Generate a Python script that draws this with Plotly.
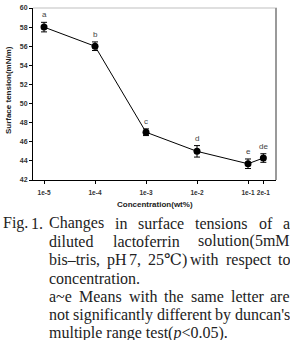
import math
import plotly.graph_objects as go

# ---------------- data ----------------
conc = [1e-5, 1e-4, 1e-3, 1e-2, 1e-1, 2e-1]
tension = [58.0, 56.0, 47.0, 45.0, 43.7, 44.3]
err = [0.5, 0.45, 0.35, 0.6, 0.5, 0.45]
letters = ["a", "b", "c", "d", "e", "de"]
xtick_text = ["1e-5", "1e-4", "1e-3", "1e-2", "1e-1", "2e-1"]
yticks = [42, 44, 46, 48, 50, 52, 54, 56, 58, 60]

cap_lines = [
    ("just", "Changes in surface tensions of a"),
    ("just", "diluted lactoferrin solution(5mM"),
    ("just", "bis–tris, pH 7, 25℃) with respect to"),
    ("left", "concentration."),
    ("just", "a~e Means with the same letter are"),
    ("just", "not significantly different by duncan's"),
    ("left", "multiple range test(<i>p</i>&lt;0.05)."),
]

# ---------------- layout geometry ----------------
W, H = 290, 340
L, R, T, B = 33, 276, 4, 180


def px_x(px):
    return (px - L) / (R - L)


def px_y(py):
    return (B - py) / (B - T)


TW = {
    'a': 444, 'b': 500, 'c': 444, 'd': 500, 'e': 444, 'f': 333, 'g': 500, 'h': 500,
    'i': 278, 'j': 278, 'k': 500, 'l': 278, 'm': 778, 'n': 500, 'o': 500, 'p': 500,
    'q': 500, 'r': 333, 's': 389, 't': 278, 'u': 500, 'v': 500, 'w': 722, 'x': 500,
    'y': 500, 'z': 444, 'C': 667, 'F': 556, 'M': 889, '.': 250, ',': 250, '(': 333,
    ')': 333, '-': 333, '–': 500, '~': 541, "'": 180, '℃': 900, ' ': 250,
}
FS = 16


def wwidth(w):
    return sum(TW.get(ch, 500) for ch in w) * FS / 1000.0


fig = go.Figure()
fig.add_trace(go.Scatter(
    x=conc, y=tension, mode="lines+markers",
    line=dict(color="black", width=1),
    marker=dict(color="black", size=7),
    error_y=dict(type="data", array=err, color="black", thickness=1, width=3),
    showlegend=False,
))

ann = []
for c, t, e, lt in zip(conc, tension, err, letters):
    ann.append(dict(x=math.log10(c), y=t + e, xref="x", yref="y", text=lt,
                    showarrow=False, yanchor="bottom", yshift=1,
                    font=dict(family="Liberation Sans, Arial", size=8, color="#444")))

# axis titles
ann.append(dict(x=px_x(155), y=px_y(205), xref="paper", yref="paper",
                text="Concentration(wt%)", showarrow=False,
                xanchor="center", yanchor="middle",
                font=dict(family="Liberation Sans, Arial", size=8, color="#222", weight="bold")))
ann.append(dict(x=px_x(8), y=px_y(88), xref="paper", yref="paper",
                text="Surface tension(mN/m)", showarrow=False, textangle=-90,
                xanchor="center", yanchor="middle",
                font=dict(family="Liberation Sans, Arial", size=8, color="#222", weight="bold")))

# caption
capfont = dict(family="Liberation Serif, DejaVu Serif, Noto Sans CJK KR", size=FS, color="#222")


def add_word(px, py, txt):
    ann.append(dict(x=px_x(px - 1), y=px_y(py), xref="paper", yref="paper",
                    text=txt, showarrow=False, xanchor="left", yanchor="middle",
                    font=capfont))


y0, dy = 224, 18.8
add_word(2, y0, "Fig.")
add_word(30, y0, "1.")
left, right = 48, 289
for i, (mode, line) in enumerate(cap_lines):
    py = y0 + i * dy
    if mode == "left":
        add_word(left, py, line)
    else:
        words = line.split(" ")
        tot = sum(wwidth(w) for w in words)
        gap = (right - left - tot) / (len(words) - 1)
        x = left
        for w in words:
            add_word(x, py, w)
            x += wwidth(w) + gap

shapes = [
    dict(type="line", xref="paper", yref="paper", x0=0, x1=1.004, y0=1, y1=1,
         line=dict(color="#d4d4d4", width=1.5)),
    dict(type="line", xref="paper", yref="paper", x0=1, x1=1, y0=0, y1=1,
         line=dict(color="#9a9a9a", width=2)),
]

fig.update_layout(
    width=W, height=H, autosize=False,
    margin=dict(l=L, r=W - R, t=T, b=H - B, pad=0),
    paper_bgcolor="white", plot_bgcolor="white",
    annotations=ann, shapes=shapes,
    xaxis=dict(type="log", range=[-5.216, -0.451], tickvals=conc, ticktext=xtick_text,
               tickangle=0, ticklabelstandoff=3,
               ticks="outside", ticklen=3, tickwidth=1, tickcolor="black",
               showline=True, linecolor="black", linewidth=1, showgrid=False, zeroline=False,
               tickfont=dict(family="Liberation Sans, Arial", size=6.5, color="#333", weight="bold")),
    yaxis=dict(range=[42, 60], tickvals=yticks, ticks="outside", ticklen=3, tickwidth=1,
               tickcolor="black", showline=True, linecolor="black", linewidth=1,
               showgrid=False, zeroline=False,
               tickfont=dict(family="Liberation Sans, Arial", size=7, color="#333", weight="bold")),
)

fig.write_html("out.html")
